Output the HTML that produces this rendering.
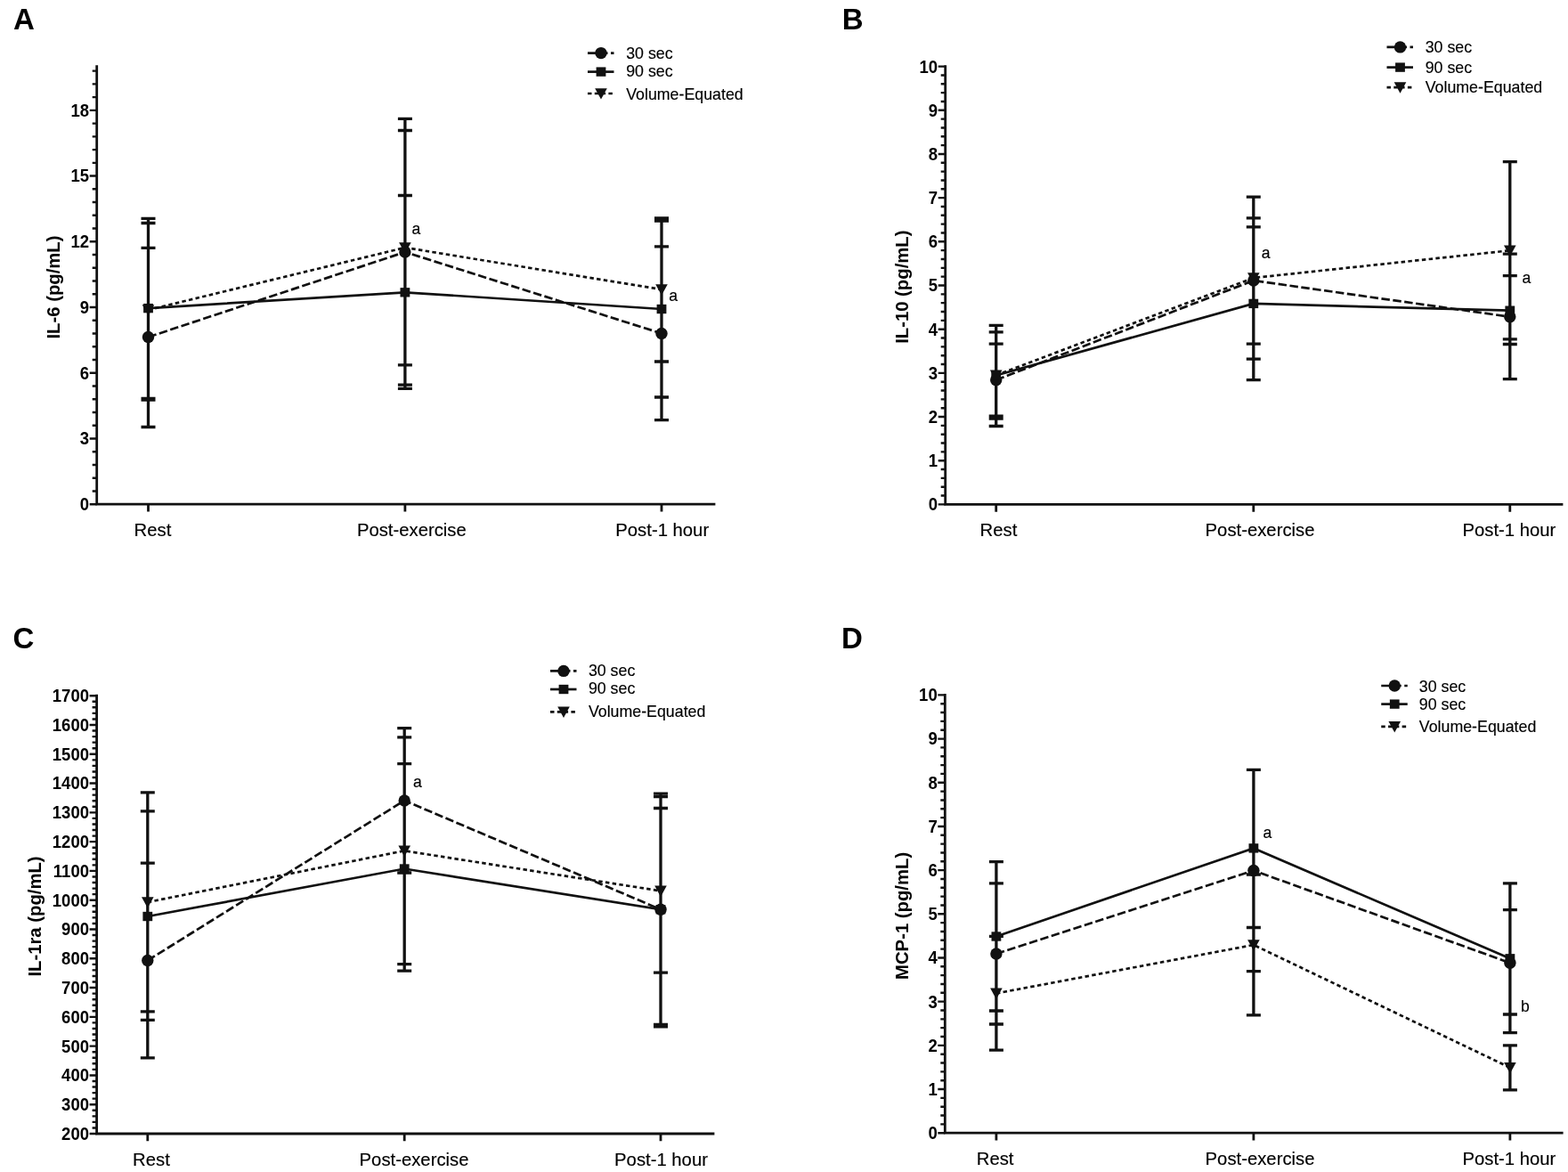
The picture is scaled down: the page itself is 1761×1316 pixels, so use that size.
<!DOCTYPE html><html><head><meta charset="utf-8"><title>Figure</title><style>html,body{margin:0;padding:0;background:#fff;overflow:hidden}svg{display:block}text{font-family:"Liberation Sans", Arial, sans-serif;fill:#000}.t{stroke:#000;stroke-width:0px}.c{stroke:#000;stroke-width:0.15px}</style></head><body>
<svg width="1761" height="1316" viewBox="0 0 1761 1316">
<rect width="1761" height="1316" fill="#fff"/>
<g><text x="15.1" y="32.8" font-size="33" font-weight="bold" fill="#000">A</text><path d="M108.7 74.7V566.2H802" fill="none" stroke="#111" stroke-width="2.8" stroke-linejoin="miter" stroke-linecap="square"/><path d="M100.7 566.2H108.7M103.7 551.46H108.7M103.7 536.71H108.7M103.7 521.97H108.7M103.7 507.22H108.7M100.7 492.48H108.7M103.7 477.73H108.7M103.7 462.99H108.7M103.7 448.24H108.7M103.7 433.5H108.7M100.7 418.75H108.7M103.7 404H108.7M103.7 389.26H108.7M103.7 374.51H108.7M103.7 359.77H108.7M100.7 345.03H108.7M103.7 330.28H108.7M103.7 315.54H108.7M103.7 300.79H108.7M103.7 286.05H108.7M100.7 271.3H108.7M103.7 256.56H108.7M103.7 241.81H108.7M103.7 227.07H108.7M103.7 212.32H108.7M100.7 197.57H108.7M103.7 182.83H108.7M103.7 168.09H108.7M103.7 153.34H108.7M103.7 138.6H108.7M100.7 123.85H108.7M103.7 109.11H108.7M103.7 94.36H108.7M103.7 79.61H108.7" stroke="#111" stroke-width="2.4" fill="none"/><text transform="translate(100.1 573.11) scale(0.96 1)" font-size="19.3" text-anchor="end" font-weight="bold">0</text><text transform="translate(100.1 499.38) scale(0.96 1)" font-size="19.3" text-anchor="end" font-weight="bold">3</text><text transform="translate(100.1 425.66) scale(0.96 1)" font-size="19.3" text-anchor="end" font-weight="bold">6</text><text transform="translate(100.1 351.93) scale(0.96 1)" font-size="19.3" text-anchor="end" font-weight="bold">9</text><text transform="translate(100.1 278.21) scale(0.96 1)" font-size="19.3" text-anchor="end" font-weight="bold">12</text><text transform="translate(100.1 204.48) scale(0.96 1)" font-size="19.3" text-anchor="end" font-weight="bold">15</text><text transform="translate(100.1 130.76) scale(0.96 1)" font-size="19.3" text-anchor="end" font-weight="bold">18</text><text x="150.6" y="601.5" font-size="20.3" class="c">Rest</text><text x="400.9" y="601.5" font-size="20.3" class="c">Post-exercise</text><text x="691.3" y="601.5" font-size="20.3" class="c">Post-1 hour</text><path d="M166.5 566.2V574.5M454.9 566.2V574.5M743 566.2V574.5" stroke="#111" stroke-width="2.8" fill="none"/><text transform="translate(66.8 322.5) rotate(-90)" font-size="20.3" font-weight="bold" text-anchor="middle" fill="#000">IL-6 (pg/mL)</text><path d="M166.5 278.3V479.5M158.5 278.3H174.5M158.5 479.5H174.5M454.9 133.4V432.2M446.9 133.4H462.9M446.9 432.2H462.9M743 276.8V471.7M735 276.8H751M735 471.7H751M166.5 245.4V449.1M158.5 245.4H174.5M158.5 449.1H174.5M454.9 219.5V436.3M446.9 219.5H462.9M446.9 436.3H462.9M743 248V446M735 248H751M735 446H751M166.5 250.5V447.3M158.5 250.5H174.5M158.5 447.3H174.5M454.9 146.5V409.8M446.9 146.5H462.9M446.9 409.8H462.9M743 245V406M735 245H751M735 406H751" stroke="#111" stroke-width="3.3" fill="none"/><polyline points="166.5,348 454.9,278 743,325" fill="none" stroke="#111" stroke-width="2.7" stroke-dasharray="4.5 3.3"/><polyline points="166.5,378.5 454.9,283 743,374.4" fill="none" stroke="#111" stroke-width="2.7" stroke-dasharray="9.5 3.5"/><polyline points="166.5,346.1 454.9,328.3 743,347" fill="none" stroke="#111" stroke-width="2.7"/><g fill="#111"><path d="M159.7 342.2H173.3L166.5 354.6Z"/><path d="M448.1 272.2H461.7L454.9 284.6Z"/><path d="M736.2 319.2H749.8L743 331.6Z"/><circle cx="166.5" cy="378.5" r="6.7"/><circle cx="454.9" cy="283" r="6.7"/><circle cx="743" cy="374.4" r="6.7"/><rect x="161.1" y="340.92" width="10.8" height="10.37"/><rect x="449.5" y="323.12" width="10.8" height="10.37"/><rect x="737.6" y="341.82" width="10.8" height="10.37"/></g><text x="462.4" y="263.2" font-size="17.6" class="c">a</text><text x="751.2" y="337.5" font-size="17.6" class="c">a</text><path d="M660 59.6H689.5" stroke="#111" stroke-width="2.7" fill="none" stroke-dasharray="9.5 3.5"/><g fill="#111"><circle cx="675" cy="59.6" r="6.7"/></g><text x="703.2" y="65.6" font-size="17.8" class="c">30 sec</text><path d="M660 80.6H689.5" stroke="#111" stroke-width="2.7" fill="none"/><g fill="#111"><rect x="669.6" y="75.42" width="10.8" height="10.37"/></g><text x="703.2" y="86.25" font-size="17.8" class="c">90 sec</text><path d="M660 105H689.5" stroke="#111" stroke-width="2.7" fill="none" stroke-dasharray="4.5 3.3"/><g fill="#111"><path d="M668.2 99.2H681.8L675 111.6Z"/></g><text x="703.2" y="111.5" font-size="17.8" class="c">Volume-Equated</text></g>
<g><text x="945.7" y="32.8" font-size="33" font-weight="bold" fill="#000">B</text><path d="M1061.7 74.6V566.4H1754" fill="none" stroke="#111" stroke-width="2.8" stroke-linejoin="miter" stroke-linecap="square"/><path d="M1053.7 566.4H1061.7M1056.7 556.56H1061.7M1056.7 546.73H1061.7M1056.7 536.89H1061.7M1056.7 527.06H1061.7M1053.7 517.22H1061.7M1056.7 507.38H1061.7M1056.7 497.55H1061.7M1056.7 487.71H1061.7M1056.7 477.88H1061.7M1053.7 468.04H1061.7M1056.7 458.2H1061.7M1056.7 448.37H1061.7M1056.7 438.53H1061.7M1056.7 428.7H1061.7M1053.7 418.86H1061.7M1056.7 409.02H1061.7M1056.7 399.19H1061.7M1056.7 389.35H1061.7M1056.7 379.52H1061.7M1053.7 369.68H1061.7M1056.7 359.84H1061.7M1056.7 350.01H1061.7M1056.7 340.17H1061.7M1056.7 330.34H1061.7M1053.7 320.5H1061.7M1056.7 310.66H1061.7M1056.7 300.83H1061.7M1056.7 290.99H1061.7M1056.7 281.16H1061.7M1053.7 271.32H1061.7M1056.7 261.48H1061.7M1056.7 251.65H1061.7M1056.7 241.81H1061.7M1056.7 231.98H1061.7M1053.7 222.14H1061.7M1056.7 212.3H1061.7M1056.7 202.47H1061.7M1056.7 192.63H1061.7M1056.7 182.8H1061.7M1053.7 172.96H1061.7M1056.7 163.12H1061.7M1056.7 153.29H1061.7M1056.7 143.45H1061.7M1056.7 133.62H1061.7M1053.7 123.78H1061.7M1056.7 113.94H1061.7M1056.7 104.11H1061.7M1056.7 94.27H1061.7M1056.7 84.44H1061.7M1053.7 74.6H1061.7" stroke="#111" stroke-width="2.4" fill="none"/><text transform="translate(1053.1 573.31) scale(0.96 1)" font-size="19.3" text-anchor="end" font-weight="bold">0</text><text transform="translate(1053.1 524.13) scale(0.96 1)" font-size="19.3" text-anchor="end" font-weight="bold">1</text><text transform="translate(1053.1 474.95) scale(0.96 1)" font-size="19.3" text-anchor="end" font-weight="bold">2</text><text transform="translate(1053.1 425.77) scale(0.96 1)" font-size="19.3" text-anchor="end" font-weight="bold">3</text><text transform="translate(1053.1 376.59) scale(0.96 1)" font-size="19.3" text-anchor="end" font-weight="bold">4</text><text transform="translate(1053.1 327.41) scale(0.96 1)" font-size="19.3" text-anchor="end" font-weight="bold">5</text><text transform="translate(1053.1 278.23) scale(0.96 1)" font-size="19.3" text-anchor="end" font-weight="bold">6</text><text transform="translate(1053.1 229.05) scale(0.96 1)" font-size="19.3" text-anchor="end" font-weight="bold">7</text><text transform="translate(1053.1 179.87) scale(0.96 1)" font-size="19.3" text-anchor="end" font-weight="bold">8</text><text transform="translate(1053.1 130.69) scale(0.96 1)" font-size="19.3" text-anchor="end" font-weight="bold">9</text><text transform="translate(1053.1 81.51) scale(0.96 1)" font-size="19.3" text-anchor="end" font-weight="bold">10</text><text x="1100.6" y="602" font-size="20.3" class="c">Rest</text><text x="1353.6" y="602" font-size="20.3" class="c">Post-exercise</text><text x="1642.5" y="602" font-size="20.3" class="c">Post-1 hour</text><path d="M1118.7 566.4V574.7M1407.8 566.4V574.7M1695.8 566.4V574.7" stroke="#111" stroke-width="2.8" fill="none"/><text transform="translate(1019.8 322.2) rotate(-90)" font-size="20.3" font-weight="bold" text-anchor="middle" fill="#000">IL-10 (pg/mL)</text><path d="M1118.7 386.2V467.2M1110.7 386.2H1126.7M1110.7 467.2H1126.7M1407.8 244.9V386.2M1399.8 244.9H1415.8M1399.8 386.2H1415.8M1695.8 285.1V425.6M1687.8 285.1H1703.8M1687.8 425.6H1703.8M1118.7 365.4V478.5M1110.7 365.4H1126.7M1110.7 478.5H1126.7M1407.8 254.9V426.7M1399.8 254.9H1415.8M1399.8 426.7H1415.8M1695.8 309.6V386.5M1687.8 309.6H1703.8M1687.8 386.5H1703.8M1118.7 372.9V470M1110.7 372.9H1126.7M1110.7 470H1126.7M1407.8 221.1V403.2M1399.8 221.1H1415.8M1399.8 403.2H1415.8M1695.8 181.7V380.9M1687.8 181.7H1703.8M1687.8 380.9H1703.8" stroke="#111" stroke-width="3.3" fill="none"/><polyline points="1118.7,421.3 1407.8,312 1695.8,281.3" fill="none" stroke="#111" stroke-width="2.7" stroke-dasharray="4.5 3.3"/><polyline points="1118.7,426.7 1407.8,315 1695.8,355.7" fill="none" stroke="#111" stroke-width="2.7" stroke-dasharray="9.5 3.5"/><polyline points="1118.7,421.5 1407.8,340.9 1695.8,348.7" fill="none" stroke="#111" stroke-width="2.7"/><g fill="#111"><path d="M1111.9 415.5H1125.5L1118.7 427.9Z"/><path d="M1401 306.2H1414.6L1407.8 318.6Z"/><path d="M1689 275.5H1702.6L1695.8 287.9Z"/><circle cx="1118.7" cy="426.7" r="6.7"/><circle cx="1407.8" cy="315" r="6.7"/><circle cx="1695.8" cy="355.7" r="6.7"/><rect x="1113.3" y="416.32" width="10.8" height="10.37"/><rect x="1402.4" y="335.72" width="10.8" height="10.37"/><rect x="1690.4" y="343.52" width="10.8" height="10.37"/></g><text x="1416.8" y="290" font-size="17.6" class="c">a</text><text x="1709.5" y="318" font-size="17.6" class="c">a</text><path d="M1557.5 52.9H1587" stroke="#111" stroke-width="2.7" fill="none" stroke-dasharray="9.5 3.5"/><g fill="#111"><circle cx="1572.5" cy="52.9" r="6.7"/></g><text x="1600.7" y="58.75" font-size="17.8" class="c">30 sec</text><path d="M1557.5 75.6H1587" stroke="#111" stroke-width="2.7" fill="none"/><g fill="#111"><rect x="1567.1" y="70.42" width="10.8" height="10.37"/></g><text x="1600.7" y="81.5" font-size="17.8" class="c">90 sec</text><path d="M1557.5 98.1H1587" stroke="#111" stroke-width="2.7" fill="none" stroke-dasharray="4.5 3.3"/><g fill="#111"><path d="M1565.7 92.3H1579.3L1572.5 104.7Z"/></g><text x="1600.7" y="104" font-size="17.8" class="c">Volume-Equated</text></g>
<g><text x="14.6" y="728.3" font-size="33" font-weight="bold" fill="#000">C</text><path d="M108.6 781.2V1273H801" fill="none" stroke="#111" stroke-width="2.8" stroke-linejoin="miter" stroke-linecap="square"/><path d="M100.6 1273H108.6M103.6 1266.44H108.6M103.6 1259.89H108.6M103.6 1253.33H108.6M103.6 1246.77H108.6M100.6 1240.21H108.6M103.6 1233.66H108.6M103.6 1227.1H108.6M103.6 1220.54H108.6M103.6 1213.98H108.6M100.6 1207.43H108.6M103.6 1200.87H108.6M103.6 1194.31H108.6M103.6 1187.75H108.6M103.6 1181.2H108.6M100.6 1174.64H108.6M103.6 1168.08H108.6M103.6 1161.53H108.6M103.6 1154.97H108.6M103.6 1148.41H108.6M100.6 1141.85H108.6M103.6 1135.3H108.6M103.6 1128.74H108.6M103.6 1122.18H108.6M103.6 1115.62H108.6M100.6 1109.07H108.6M103.6 1102.51H108.6M103.6 1095.95H108.6M103.6 1089.39H108.6M103.6 1082.84H108.6M100.6 1076.28H108.6M103.6 1069.72H108.6M103.6 1063.17H108.6M103.6 1056.61H108.6M103.6 1050.05H108.6M100.6 1043.49H108.6M103.6 1036.94H108.6M103.6 1030.38H108.6M103.6 1023.82H108.6M103.6 1017.26H108.6M100.6 1010.71H108.6M103.6 1004.15H108.6M103.6 997.59H108.6M103.6 991.03H108.6M103.6 984.48H108.6M100.6 977.92H108.6M103.6 971.36H108.6M103.6 964.81H108.6M103.6 958.25H108.6M103.6 951.69H108.6M100.6 945.13H108.6M103.6 938.58H108.6M103.6 932.02H108.6M103.6 925.46H108.6M103.6 918.9H108.6M100.6 912.35H108.6M103.6 905.79H108.6M103.6 899.23H108.6M103.6 892.67H108.6M103.6 886.12H108.6M100.6 879.56H108.6M103.6 873H108.6M103.6 866.45H108.6M103.6 859.89H108.6M103.6 853.33H108.6M100.6 846.77H108.6M103.6 840.22H108.6M103.6 833.66H108.6M103.6 827.1H108.6M103.6 820.54H108.6M100.6 813.99H108.6M103.6 807.43H108.6M103.6 800.87H108.6M103.6 794.31H108.6M103.6 787.76H108.6M100.6 781.2H108.6" stroke="#111" stroke-width="2.4" fill="none"/><text transform="translate(100 1279.91) scale(0.96 1)" font-size="19.3" text-anchor="end" font-weight="bold">200</text><text transform="translate(100 1247.12) scale(0.96 1)" font-size="19.3" text-anchor="end" font-weight="bold">300</text><text transform="translate(100 1214.34) scale(0.96 1)" font-size="19.3" text-anchor="end" font-weight="bold">400</text><text transform="translate(100 1181.55) scale(0.96 1)" font-size="19.3" text-anchor="end" font-weight="bold">500</text><text transform="translate(100 1148.76) scale(0.96 1)" font-size="19.3" text-anchor="end" font-weight="bold">600</text><text transform="translate(100 1115.98) scale(0.96 1)" font-size="19.3" text-anchor="end" font-weight="bold">700</text><text transform="translate(100 1083.19) scale(0.96 1)" font-size="19.3" text-anchor="end" font-weight="bold">800</text><text transform="translate(100 1050.4) scale(0.96 1)" font-size="19.3" text-anchor="end" font-weight="bold">900</text><text transform="translate(100 1017.62) scale(0.96 1)" font-size="19.3" text-anchor="end" font-weight="bold">1000</text><text transform="translate(100 984.83) scale(0.96 1)" font-size="19.3" text-anchor="end" font-weight="bold">1100</text><text transform="translate(100 952.04) scale(0.96 1)" font-size="19.3" text-anchor="end" font-weight="bold">1200</text><text transform="translate(100 919.26) scale(0.96 1)" font-size="19.3" text-anchor="end" font-weight="bold">1300</text><text transform="translate(100 886.47) scale(0.96 1)" font-size="19.3" text-anchor="end" font-weight="bold">1400</text><text transform="translate(100 853.68) scale(0.96 1)" font-size="19.3" text-anchor="end" font-weight="bold">1500</text><text transform="translate(100 820.9) scale(0.96 1)" font-size="19.3" text-anchor="end" font-weight="bold">1600</text><text transform="translate(100 788.11) scale(0.96 1)" font-size="19.3" text-anchor="end" font-weight="bold">1700</text><text x="149.1" y="1309" font-size="20.3" class="c">Rest</text><text x="403.6" y="1309" font-size="20.3" class="c">Post-exercise</text><text x="690.1" y="1309" font-size="20.3" class="c">Post-1 hour</text><path d="M165.8 1273V1281.3M454.2 1273V1281.3M742 1273V1281.3" stroke="#111" stroke-width="2.8" fill="none"/><text transform="translate(46.1 1029) rotate(-90)" font-size="20.3" font-weight="bold" text-anchor="middle" fill="#000">IL-1ra (pg/mL)</text><path d="M165.8 969.1V1187.8M157.8 969.1H173.8M157.8 1187.8H173.8M454.2 817.7V980M446.2 817.7H462.2M446.2 980H462.2M742 891.2V1152.9M734 891.2H750M734 1152.9H750M165.8 910.8V1145.3M157.8 910.8H173.8M157.8 1145.3H173.8M454.2 857.7V1090.2M446.2 857.7H462.2M446.2 1090.2H462.2M742 894.7V1150.5M734 894.7H750M734 1150.5H750M165.8 889.9V1135.8M157.8 889.9H173.8M157.8 1135.8H173.8M454.2 827.8V1082.7M446.2 827.8H462.2M446.2 1082.7H462.2M742 907.5V1092.2M734 907.5H750M734 1092.2H750" stroke="#111" stroke-width="3.3" fill="none"/><polyline points="165.8,1013 454.2,955.3 742,1000.4" fill="none" stroke="#111" stroke-width="2.7" stroke-dasharray="4.5 3.3"/><polyline points="165.8,1078.5 454.2,898.9 742,1021.2" fill="none" stroke="#111" stroke-width="2.7" stroke-dasharray="9.5 3.5"/><polyline points="165.8,1029 454.2,975.5 742,1021.2" fill="none" stroke="#111" stroke-width="2.7"/><g fill="#111"><path d="M159 1007.2H172.6L165.8 1019.6Z"/><path d="M447.4 949.5H461L454.2 961.9Z"/><path d="M735.2 994.6H748.8L742 1007Z"/><circle cx="165.8" cy="1078.5" r="6.7"/><circle cx="454.2" cy="898.9" r="6.7"/><circle cx="742" cy="1021.2" r="6.7"/><rect x="160.4" y="1023.82" width="10.8" height="10.37"/><rect x="448.8" y="970.32" width="10.8" height="10.37"/><rect x="736.6" y="1016.02" width="10.8" height="10.37"/></g><text x="464" y="883.6" font-size="17.6" class="c">a</text><path d="M618 753.4H647.5" stroke="#111" stroke-width="2.7" fill="none" stroke-dasharray="9.5 3.5"/><g fill="#111"><circle cx="633" cy="753.4" r="6.7"/></g><text x="660.9" y="759.4" font-size="17.8" class="c">30 sec</text><path d="M618 774H647.5" stroke="#111" stroke-width="2.7" fill="none"/><g fill="#111"><rect x="627.6" y="768.82" width="10.8" height="10.37"/></g><text x="660.9" y="779.4" font-size="17.8" class="c">90 sec</text><path d="M618 799.4H647.5" stroke="#111" stroke-width="2.7" fill="none" stroke-dasharray="4.5 3.3"/><g fill="#111"><path d="M626.2 793.6H639.8L633 806Z"/></g><text x="660.9" y="804.6" font-size="17.8" class="c">Volume-Equated</text></g>
<g><text x="945" y="728.3" font-size="33" font-weight="bold" fill="#000">D</text><path d="M1061.3 780.4V1272.2H1754.2" fill="none" stroke="#111" stroke-width="2.8" stroke-linejoin="miter" stroke-linecap="square"/><path d="M1053.3 1272.2H1061.3M1056.3 1262.36H1061.3M1056.3 1252.53H1061.3M1056.3 1242.69H1061.3M1056.3 1232.86H1061.3M1053.3 1223.02H1061.3M1056.3 1213.18H1061.3M1056.3 1203.35H1061.3M1056.3 1193.51H1061.3M1056.3 1183.68H1061.3M1053.3 1173.84H1061.3M1056.3 1164H1061.3M1056.3 1154.17H1061.3M1056.3 1144.33H1061.3M1056.3 1134.5H1061.3M1053.3 1124.66H1061.3M1056.3 1114.82H1061.3M1056.3 1104.99H1061.3M1056.3 1095.15H1061.3M1056.3 1085.32H1061.3M1053.3 1075.48H1061.3M1056.3 1065.64H1061.3M1056.3 1055.81H1061.3M1056.3 1045.97H1061.3M1056.3 1036.14H1061.3M1053.3 1026.3H1061.3M1056.3 1016.46H1061.3M1056.3 1006.63H1061.3M1056.3 996.79H1061.3M1056.3 986.96H1061.3M1053.3 977.12H1061.3M1056.3 967.28H1061.3M1056.3 957.45H1061.3M1056.3 947.61H1061.3M1056.3 937.78H1061.3M1053.3 927.94H1061.3M1056.3 918.1H1061.3M1056.3 908.27H1061.3M1056.3 898.43H1061.3M1056.3 888.6H1061.3M1053.3 878.76H1061.3M1056.3 868.92H1061.3M1056.3 859.09H1061.3M1056.3 849.25H1061.3M1056.3 839.42H1061.3M1053.3 829.58H1061.3M1056.3 819.74H1061.3M1056.3 809.91H1061.3M1056.3 800.07H1061.3M1056.3 790.24H1061.3M1053.3 780.4H1061.3" stroke="#111" stroke-width="2.4" fill="none"/><text transform="translate(1052.7 1279.11) scale(0.96 1)" font-size="19.3" text-anchor="end" font-weight="bold">0</text><text transform="translate(1052.7 1229.93) scale(0.96 1)" font-size="19.3" text-anchor="end" font-weight="bold">1</text><text transform="translate(1052.7 1180.75) scale(0.96 1)" font-size="19.3" text-anchor="end" font-weight="bold">2</text><text transform="translate(1052.7 1131.57) scale(0.96 1)" font-size="19.3" text-anchor="end" font-weight="bold">3</text><text transform="translate(1052.7 1082.39) scale(0.96 1)" font-size="19.3" text-anchor="end" font-weight="bold">4</text><text transform="translate(1052.7 1033.21) scale(0.96 1)" font-size="19.3" text-anchor="end" font-weight="bold">5</text><text transform="translate(1052.7 984.03) scale(0.96 1)" font-size="19.3" text-anchor="end" font-weight="bold">6</text><text transform="translate(1052.7 934.85) scale(0.96 1)" font-size="19.3" text-anchor="end" font-weight="bold">7</text><text transform="translate(1052.7 885.67) scale(0.96 1)" font-size="19.3" text-anchor="end" font-weight="bold">8</text><text transform="translate(1052.7 836.49) scale(0.96 1)" font-size="19.3" text-anchor="end" font-weight="bold">9</text><text transform="translate(1052.7 787.31) scale(0.96 1)" font-size="19.3" text-anchor="end" font-weight="bold">10</text><text x="1096.8" y="1307.7" font-size="20.3" class="c">Rest</text><text x="1353.6" y="1307.7" font-size="20.3" class="c">Post-exercise</text><text x="1642.5" y="1307.7" font-size="20.3" class="c">Post-1 hour</text><path d="M1118.9 1272.2V1280.5M1407.9 1272.2V1280.5M1695.9 1272.2V1280.5" stroke="#111" stroke-width="2.8" fill="none"/><text transform="translate(1019.8 1028.4) rotate(-90)" font-size="20.3" font-weight="bold" text-anchor="middle" fill="#000">MCP-1 (pg/mL)</text><path d="M1118.9 991.9V1150M1110.9 991.9H1126.9M1110.9 1150H1126.9M1407.9 864.3V1090.6M1399.9 864.3H1415.9M1399.9 1090.6H1415.9M1695.9 1021.7V1139M1687.9 1021.7H1703.9M1687.9 1139H1703.9M1118.9 967.6V1135M1110.9 967.6H1126.9M1110.9 1135H1126.9M1407.9 864.3V1041.5M1399.9 864.3H1415.9M1399.9 1041.5H1415.9M1695.9 991.9V1159.6M1687.9 991.9H1703.9M1687.9 1159.6H1703.9M1118.9 1051.3V1179.2M1110.9 1051.3H1126.9M1110.9 1179.2H1126.9M1407.9 982V1139.8M1399.9 982H1415.9M1399.9 1139.8H1415.9M1695.9 1173.9V1223.9M1687.9 1173.9H1703.9M1687.9 1223.9H1703.9" stroke="#111" stroke-width="3.3" fill="none"/><polyline points="1118.9,1115.4 1407.9,1061 1695.9,1198.8" fill="none" stroke="#111" stroke-width="2.7" stroke-dasharray="4.5 3.3"/><polyline points="1118.9,1071 1407.9,977.5 1695.9,1081.2" fill="none" stroke="#111" stroke-width="2.7" stroke-dasharray="9.5 3.5"/><polyline points="1118.9,1051.5 1407.9,952.4 1695.9,1076.3" fill="none" stroke="#111" stroke-width="2.7"/><g fill="#111"><path d="M1112.1 1109.6H1125.7L1118.9 1122Z"/><path d="M1401.1 1055.2H1414.7L1407.9 1067.6Z"/><path d="M1689.1 1193H1702.7L1695.9 1205.4Z"/><circle cx="1118.9" cy="1071" r="6.7"/><circle cx="1407.9" cy="977.5" r="6.7"/><circle cx="1695.9" cy="1081.2" r="6.7"/><rect x="1113.5" y="1046.32" width="10.8" height="10.37"/><rect x="1402.5" y="947.22" width="10.8" height="10.37"/><rect x="1690.5" y="1071.12" width="10.8" height="10.37"/></g><text x="1418.4" y="940.5" font-size="17.6" class="c">a</text><text x="1708" y="1136" font-size="17.6" class="c">b</text><path d="M1551.25 770H1580.75" stroke="#111" stroke-width="2.7" fill="none" stroke-dasharray="9.5 3.5"/><g fill="#111"><circle cx="1566.25" cy="770" r="6.7"/></g><text x="1593.8" y="776.5" font-size="17.8" class="c">30 sec</text><path d="M1551.25 790.6H1580.75" stroke="#111" stroke-width="2.7" fill="none"/><g fill="#111"><rect x="1560.85" y="785.42" width="10.8" height="10.37"/></g><text x="1593.8" y="796.5" font-size="17.8" class="c">90 sec</text><path d="M1551.25 815.9H1580.75" stroke="#111" stroke-width="2.7" fill="none" stroke-dasharray="4.5 3.3"/><g fill="#111"><path d="M1559.45 810.1H1573.05L1566.25 822.5Z"/></g><text x="1593.8" y="821.9" font-size="17.8" class="c">Volume-Equated</text></g>
</svg></body></html>
